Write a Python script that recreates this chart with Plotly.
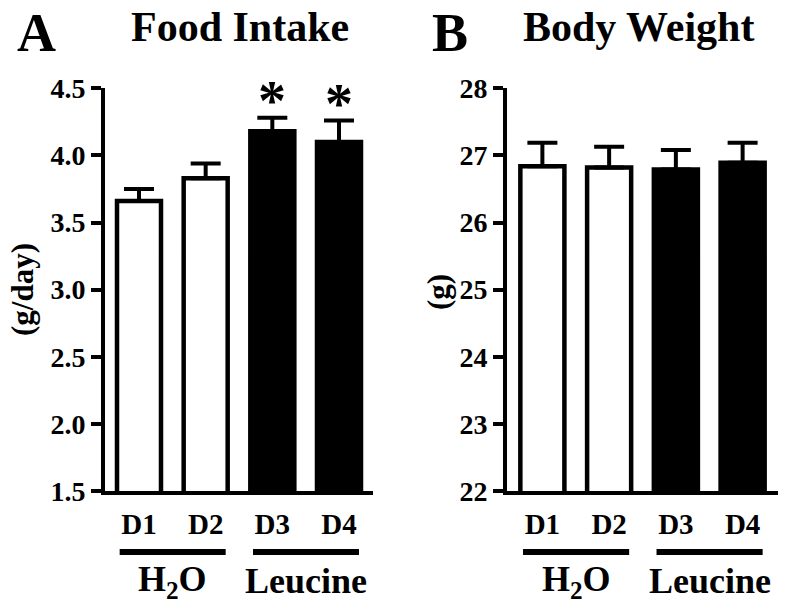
import plotly.graph_objects as go

days = ["D1", "D2", "D3", "D4"]
groups = ["H<sub>2</sub>O", "Leucine"]
group_of_day = [0, 0, 1, 1]
fill_colors = ["white", "white", "black", "black"]

food_intake = [3.66, 3.83, 4.18, 4.10]
food_intake_sem = [0.09, 0.11, 0.10, 0.16]
food_significant = [False, False, True, True]

body_weight = [26.84, 26.82, 26.79, 26.89]
body_weight_sem = [0.35, 0.31, 0.29, 0.30]

FONT = "Liberation Serif, Times New Roman, serif"

# page body has an 8px margin, so the figure is 16px smaller than the window
W, H, OFF = 771, 597, 8


def fx(px):
    return (px - OFF) / W


def fy(py):
    return 1 - (py - OFF) / H


fig = go.Figure()

panels = [
    ("x", "y", food_intake, food_intake_sem),
    ("x2", "y2", body_weight, body_weight_sem),
]
for xa, ya, vals, sem in panels:
    fig.add_trace(go.Bar(
        x=days, y=vals, xaxis=xa, yaxis=ya, width=0.66,
        marker=dict(color=fill_colors, line=dict(color="black", width=4.5)),
        error_y=dict(type="data", symmetric=False, array=sem,
                     arrayminus=[0] * len(sem), color="black",
                     thickness=4, width=15),
        showlegend=False, hoverinfo="x+y",
    ))

axis_common = dict(showline=True, linecolor="black", linewidth=4,
                   showgrid=False, zeroline=False, automargin=False)
xcommon = dict(axis_common, type="category", ticks="", ticklabelstandoff=4,
               tickfont=dict(family=FONT, size=29, color="black", weight="bold"))
ycommon = dict(axis_common, ticks="outside", ticklen=10, tickwidth=4,
               tickcolor="black",
               tickfont=dict(family=FONT, size=28, color="black", weight="bold"))

ydom = [fy(491), fy(88.3)]
fig.update_layout(
    template="none",
    width=W, height=H,
    margin=dict(l=0, r=0, t=0, b=0, pad=0, autoexpand=False),
    plot_bgcolor="white", paper_bgcolor="white",
    xaxis=dict(xcommon, domain=[fx(105), fx(373)], range=[-0.51, 3.51], anchor="y"),
    yaxis=dict(ycommon, domain=ydom, range=[1.5, 4.5], dtick=0.5,
               tickformat=".1f", anchor="x"),
    xaxis2=dict(xcommon, domain=[fx(507), fx(778)], range=[-0.53, 3.53], anchor="y2"),
    yaxis2=dict(ycommon, domain=ydom, range=[22, 28], dtick=1, anchor="x2"),
)

bold = dict(family=FONT, color="black", weight="bold")

# significance marks
for i, sig in enumerate(food_significant):
    if sig:
        fig.add_annotation(x=days[i], y=food_intake[i] + food_intake_sem[i],
                           xref="x", yref="y", text="*", showarrow=False,
                           xanchor="center", yanchor="bottom", yshift=-16,
                           font=dict(bold, size=56))

# group bars and labels under the days
for xr in ["x", "x2"]:
    for g, name in enumerate(groups):
        idx = [i for i, gi in enumerate(group_of_day) if gi == g]
        x0, x1 = idx[0] - 0.29, idx[-1] + 0.3
        fig.add_shape(type="line", xref=xr, yref="paper", x0=x0, x1=x1,
                      y0=fy(552), y1=fy(552), line=dict(color="black", width=6))
        fig.add_annotation(x=(x0 + x1) / 2, y=fy(581), xref=xr, yref="paper",
                           text=name, showarrow=False, xanchor="center",
                           yanchor="middle", font=dict(bold, size=36))


def label(px, py, text, size, angle=0):
    fig.add_annotation(x=fx(px), y=fy(py), xref="paper", yref="paper",
                       text=text, textangle=angle, showarrow=False,
                       xanchor="center", yanchor="middle",
                       font=dict(bold, size=size))


# panel letters, titles, axis titles
label(36, 33, "A", 54)
label(240, 27, "Food Intake", 42)
label(450, 33, "B", 54)
label(638, 27, "Body Weight", 42)
label(22, 290, "(g/day)", 31, -90)
label(438, 292, "(g)", 31, -90)

fig.write_html("out.html")
